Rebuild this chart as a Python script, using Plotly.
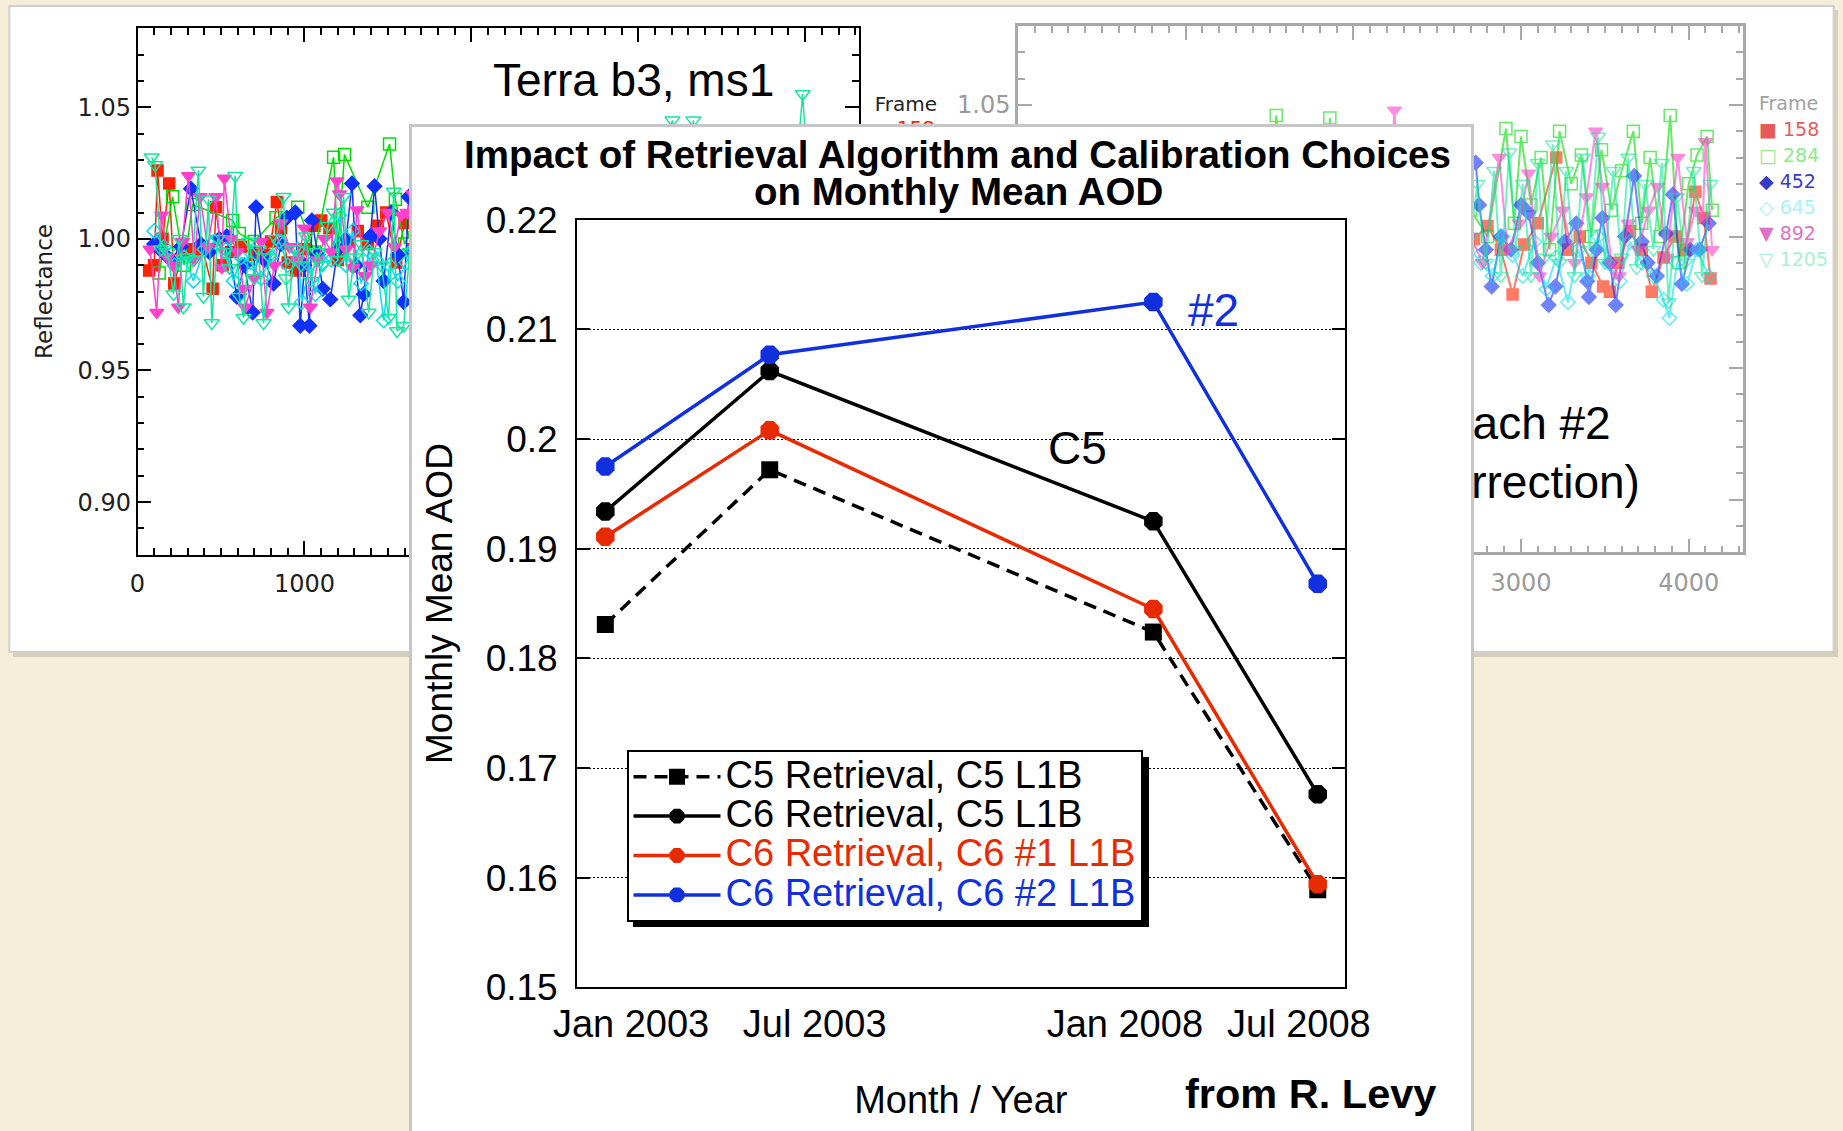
import plotly.graph_objects as go

W, H = 1843, 1131


def px(x):
    return x / W


def py(y):
    return 1 - y / H


# ---------------- main chart data ----------------
months = ["Jan 2003", "Jul 2003", "Jan 2008", "Jul 2008"]
month_pos = [0, 6, 20, 26]
c5_ret_c5_l1b = [0.1831, 0.1972, 0.1824, 0.1589]
c6_ret_c5_l1b = [0.1934, 0.2062, 0.1925, 0.1676]
c6_ret_c6_1_l1b = [0.1911, 0.2008, 0.1845, 0.1594]
c6_ret_c6_2_l1b = [0.1975, 0.2077, 0.2125, 0.1868]
y_ticks_main = [0.15, 0.16, 0.17, 0.18, 0.19, 0.20, 0.21, 0.22]

# ---------------- background chart (left, Terra b3 ms1) ----------------
frames = ["158", "284", "452", "645", "892", "1205"]
left_f158 = [(70, 0.988), (100, 0.990), (120, 1.026), (150, 1.000), (190, 1.021), (220, 0.983),
             (270, 0.995), (330, 0.996), (390, 0.996), (450, 0.981), (470, 1.012), (510, 0.990),
             (560, 0.995), (620, 0.997), (700, 0.994), (760, 0.994), (800, 0.999), (835, 1.014),
             (860, 1.004), (900, 0.991), (950, 0.988), (1000, 0.996), (1060, 1.005), (1100, 1.007),
             (1150, 1.004), (1200, 0.992), (1260, 0.999), (1320, 1.003), (1380, 0.998), (1440, 1.005),
             (1490, 1.010), (1550, 0.991), (1600, 1.006), (1650, 0.996)]
left_f284 = [(130, 0.987), (210, 1.016), (280, 0.990), (330, 1.013), (570, 1.007), (610, 1.002),
             (700, 0.999), (830, 1.008), (960, 1.012), (1060, 0.995), (1175, 1.031), (1200, 0.996),
             (1240, 1.032), (1380, 1.012), (1510, 1.036), (1545, 1.015), (1600, 0.998), (1650, 1.005)]
left_f452 = [(100, 0.998), (150, 0.995), (200, 0.992), (260, 0.997), (320, 1.019), (380, 0.998),
             (430, 0.995), (490, 1.000), (535, 1.001), (595, 0.978), (640, 0.990), (690, 0.972),
             (710, 1.012), (760, 0.992), (815, 0.983), (860, 0.998), (895, 1.008), (945, 1.010),
             (975, 0.967), (1000, 0.990), (1030, 0.967), (1045, 1.007), (1080, 0.994), (1110, 0.981),
             (1155, 0.977), (1200, 0.996), (1250, 1.000), (1285, 1.021), (1310, 0.990), (1335, 0.971),
             (1355, 0.979), (1395, 1.001), (1420, 1.020), (1450, 1.000), (1475, 0.984), (1520, 1.010),
             (1560, 0.994), (1595, 0.976), (1625, 1.016), (1660, 0.995)]
left_f645 = [(100, 1.003), (160, 0.997), (220, 0.990), (280, 0.993), (335, 0.984), (400, 0.996),
             (460, 0.999), (530, 0.996), (575, 0.984), (620, 0.993), (680, 0.991), (740, 0.985),
             (800, 0.993), (850, 0.999), (900, 0.990), (960, 0.996), (985, 0.976), (1030, 0.990),
             (1065, 0.979), (1110, 0.991), (1160, 0.992), (1210, 1.009), (1250, 0.990), (1290, 1.003),
             (1340, 0.983), (1390, 0.995), (1430, 0.992), (1475, 0.969), (1510, 0.990), (1560, 0.984),
             (1610, 0.991), (1650, 0.996)]
left_f892 = [(75, 0.996), (115, 0.972), (145, 1.009), (180, 0.993), (215, 0.990), (245, 0.974),
             (270, 0.999), (305, 1.024), (340, 0.992), (375, 1.016), (420, 0.997), (470, 1.016),
             (505, 0.989), (520, 1.023), (560, 1.000), (600, 0.995), (635, 0.981), (645, 0.974),
             (700, 0.985), (740, 0.999), (775, 0.972), (820, 0.990), (860, 1.006), (910, 0.997),
             (960, 0.992), (1000, 1.004), (1035, 0.974), (1080, 0.992), (1120, 1.000), (1160, 0.995),
             (1195, 1.022), (1210, 1.017), (1250, 0.996), (1290, 0.989), (1315, 1.011), (1365, 0.986),
             (1400, 0.990), (1450, 1.003), (1500, 1.010), (1540, 0.997), (1580, 1.009), (1615, 1.010),
             (1650, 1.017)]
left_f1205 = [(85, 1.031), (105, 1.028), (140, 0.996), (180, 0.995), (215, 0.979), (250, 1.000),
              (275, 0.974), (300, 0.993), (330, 0.992), (365, 1.026), (395, 0.978), (425, 1.015),
              (445, 0.968), (480, 1.000), (520, 0.995), (550, 0.989), (585, 1.024), (610, 0.978),
              (635, 0.970), (670, 0.999), (700, 0.985), (725, 0.996), (755, 0.968), (790, 0.993),
              (830, 1.000), (875, 1.016), (890, 0.985), (905, 0.974), (940, 0.996), (980, 0.990),
              (1010, 1.001), (1040, 0.984), (1075, 0.995), (1110, 0.990), (1140, 1.005), (1175, 1.010),
              (1200, 0.992), (1235, 1.016), (1265, 0.977), (1300, 0.993), (1340, 0.998), (1385, 0.972),
              (1420, 0.995), (1460, 0.990), (1505, 0.970), (1535, 1.018), (1555, 0.965), (1595, 0.967),
              (1630, 0.995), (1680, 0.990), (3000, 0.995), (3205, 1.045), (3250, 0.990), (3330, 1.045),
              (3400, 0.990), (3900, 0.990), (3985, 1.055), (4050, 0.990)]

# ---------------- background chart (right, faded) ----------------
right_f158 = [(2720, 0.999), (2800, 1.004), (2880, 0.995), (2950, 0.978), (3020, 0.997), (3100, 1.005),
              (3210, 1.030), (3280, 0.995), (3350, 1.000), (3420, 0.990), (3490, 0.981), (3530, 0.979),
              (3580, 0.990), (3650, 1.002), (3720, 0.995), (3780, 0.979), (3850, 0.992), (3920, 1.000),
              (3980, 0.995), (4040, 1.017), (4090, 1.007), (4130, 0.984)]
right_f284 = [(1500, 1.000), (1540, 1.046), (1600, 0.995), (1820, 1.000), (1860, 1.045), (1900, 0.995),
              (2700, 1.010), (2800, 1.000), (2910, 1.041), (2960, 1.005), (3000, 1.038), (3060, 1.012),
              (3120, 1.030), (3170, 0.995), (3230, 1.040), (3300, 1.020), (3360, 1.031), (3420, 1.000),
              (3480, 1.033), (3540, 1.010), (3600, 1.025), (3670, 1.040), (3720, 1.005), (3770, 1.030),
              (3830, 1.000), (3890, 1.046), (3940, 0.990), (4000, 1.020), (4050, 1.031), (4110, 1.038),
              (4140, 1.010)]
right_f452 = [(2730, 1.028), (2750, 1.012), (2790, 0.995), (2825, 0.981), (2880, 1.000), (2940, 0.995),
              (3000, 1.012), (3045, 1.009), (3100, 0.990), (3165, 0.974), (3205, 0.981), (3260, 0.998),
              (3330, 1.005), (3395, 0.983), (3405, 0.977), (3450, 0.995), (3485, 1.007), (3530, 0.990),
              (3565, 0.974), (3620, 1.000), (3675, 1.023), (3720, 0.998), (3755, 0.990), (3810, 0.985),
              (3865, 1.001), (3905, 1.016), (3960, 0.982), (4010, 0.995), (4065, 0.995), (4120, 1.005)]
right_f645 = [(2700, 0.995), (2760, 0.990), (2830, 0.985), (2890, 1.000), (2950, 0.993), (3010, 0.985),
              (3080, 0.998), (3150, 0.980), (3210, 0.992), (3280, 0.975), (3340, 0.995), (3400, 0.985),
              (3460, 1.000), (3520, 0.990), (3590, 0.983), (3650, 0.998), (3720, 0.990), (3790, 0.985),
              (3850, 0.976), (3885, 0.969), (3930, 0.990), (3990, 0.982), (4050, 0.995), (4120, 0.985)]
right_f892 = [(2200, 0.995), (2245, 1.048), (2300, 0.990), (2700, 1.000), (2770, 0.990), (2870, 1.030),
              (2920, 0.995), (2990, 1.005), (3045, 1.024), (3110, 0.985), (3180, 1.000), (3250, 1.010),
              (3320, 0.990), (3390, 1.015), (3445, 1.040), (3485, 1.019), (3540, 0.990), (3585, 0.985),
              (3640, 1.005), (3700, 0.995), (3760, 1.010), (3815, 1.019), (3870, 0.992), (3935, 1.030),
              (3990, 0.998), (4040, 1.010), (4085, 1.007), (4100, 1.036), (4140, 0.995)]
right_f1205 = [(2700, 1.000), (2740, 1.020), (2790, 0.990), (2840, 1.025), (2880, 0.985), (2930, 1.032),
               (2970, 0.995), (3010, 1.020), (3060, 0.985), (3100, 1.028), (3140, 0.992), (3190, 1.035),
               (3230, 0.990), (3270, 1.025), (3320, 0.985), (3370, 1.030), (3410, 0.995), (3460, 1.038),
               (3500, 0.990), (3550, 1.025), (3600, 0.992), (3640, 1.030), (3690, 0.988), (3740, 1.020),
               (3790, 0.995), (3840, 1.028), (3880, 0.975), (3930, 1.015), (3980, 0.990), (4030, 1.025),
               (4080, 0.985), (4130, 1.020)]

frame_colors = ["#ff2200", "#00dd00", "#1030ff", "#00e0f0", "#ff40cc", "#10e8a0"]
frame_symbols = ["square", "square-open", "diamond", "diamond-open", "triangle-down", "triangle-down-open"]
frame_sizes = [11, 12, 11, 11, 12, 13]
legend_glyphs = ["\u25a0", "\u25a1", "\u25c6", "\u25c7", "\u25bc", "\u25bd"]
faded_colors = ["#e85a5a", "#8ee88e", "#3a3ac8", "#a8f2f6", "#e070c8", "#a8f0d4"]

MAIN_FONT = "Liberation Sans, Arial, sans-serif"
IDL_FONT = "DejaVu Sans, sans-serif"
BLUE = "#1030e0"
RED = "#e82a00"

fig = go.Figure()


def add_frame_series(pairs, i, xa, ya, opacity=1.0, lw=1.5):
    fig.add_trace(go.Scatter(
        x=[p[0] for p in pairs], y=[p[1] for p in pairs], mode="lines+markers",
        xaxis=xa, yaxis=ya, opacity=opacity, showlegend=False, hoverinfo="skip",
        line=dict(color=frame_colors[i], width=lw),
        marker=dict(color=frame_colors[i], symbol=frame_symbols[i], size=frame_sizes[i],
                    line=dict(color=frame_colors[i], width=1.5))))


left_series = [left_f158, left_f284, left_f452, left_f645, left_f892, left_f1205]
right_series = [right_f158, right_f284, right_f452, right_f645, right_f892, right_f1205]

# subplot 2: left background chart
for i, s in enumerate(left_series):
    add_frame_series(s, i, "x2", "y2")

# subplot 3: right background chart (faded)
for i, s in enumerate(right_series):
    add_frame_series(s, i, "x3", "y3", opacity=0.6, lw=2)
fig.add_trace(go.Scatter(x=[3535, 3709], y=[0.9276, 0.9049], mode="text",
                         text=["Approach #2", "(with correction)"], textposition="middle left",
                         textfont=dict(family=MAIN_FONT, size=46, color="black"),
                         xaxis="x3", yaxis="y3", cliponaxis=False, showlegend=False, hoverinfo="skip"))

# subplot 4: holder for the left chart's frame legend (partly hidden by the front card)
fig.add_trace(go.Scatter(x=[0.06, 0.21], y=[0.76, 0.34], mode="text", text=["Frame", frames[0]],
                         textposition="middle right",
                         textfont=dict(family=IDL_FONT, size=20, color=["#222222", frame_colors[0]]),
                         xaxis="x4", yaxis="y4", cliponaxis=False, showlegend=False, hoverinfo="skip"))

# subplot 5: front card (empty subplot whose background hides the charts behind it)
fig.add_trace(go.Scatter(x=[None], y=[None], xaxis="x5", yaxis="y5", showlegend=False, hoverinfo="skip"))

# subplot 6: main chart
main_series = [
    ("C5 Retrieval, C5 L1B", c5_ret_c5_l1b, "black", "square", 17, "13px,8px"),
    ("C6 Retrieval, C5 L1B", c6_ret_c5_l1b, "black", "octagon", 20, "solid"),
    ("C6 Retrieval, C6 #1 L1B", c6_ret_c6_1_l1b, RED, "octagon", 20, "solid"),
    ("C6 Retrieval, C6 #2 L1B", c6_ret_c6_2_l1b, BLUE, "octagon", 20, "solid"),
]
for name, vals, col, sym, size, dash in main_series:
    fig.add_trace(go.Scatter(
        x=month_pos, y=vals, mode="lines+markers", xaxis="x6", yaxis="y6",
        name='<span style="font-size:38px;color:%s">%s</span>' % (col, name),
        line=dict(color=col, width=3.5, dash=dash),
        marker=dict(color=col, symbol=sym, size=size, line=dict(width=0))))

tick_font_idl = dict(family=IDL_FONT, size=24, color="#1e1e1e")
tick_font_faded = dict(family=IDL_FONT, size=24, color="#9a9a9a")

common_bg_x = dict(range=[0, 4324], tickvals=[0, 1000, 2000, 3000, 4000], ticks="inside", ticklen=14,
                   tickwidth=1.5, showline=True, mirror="ticks", linewidth=1.5, showgrid=False,
                   zeroline=False, ticklabelstandoff=7, automargin=False)
common_bg_y = dict(range=[0.88, 1.08], tickvals=[0.90, 0.95, 1.00, 1.05],
                   ticktext=["0.90", "0.95", "1.00", "1.05"], ticks="inside", ticklen=14, tickwidth=1.5,
                   showline=True, mirror="ticks", linewidth=1.5, showgrid=False, zeroline=False,
                   ticklabelstandoff=0, automargin=False)
hidden_axis = dict(range=[0, 1], showline=False, showgrid=False, zeroline=False, showticklabels=False,
                   ticks="", automargin=False, fixedrange=True)

layout = dict(
    width=W, height=H, margin=dict(l=0, r=0, t=0, b=0),
    paper_bgcolor="#f6eed8", plot_bgcolor="white",
    font=dict(family=MAIN_FONT, color="black"),
    xaxis2=dict(common_bg_x, domain=[px(137.5), px(859.2)], anchor="y2", tickcolor="black",
                linecolor="black", tickfont=tick_font_idl,
                minor=dict(dtick=100, ticks="inside", ticklen=7, tickwidth=1.5, tickcolor="black")),
    yaxis2=dict(common_bg_y, domain=[py(554.8), py(28.2)], anchor="x2", tickcolor="black",
                linecolor="black", tickfont=tick_font_idl,
                minor=dict(dtick=0.01, ticks="inside", ticklen=7, tickwidth=1.5, tickcolor="black"),
                title=dict(text="Reflectance", font=dict(family=IDL_FONT, size=23, color="#1e1e1e"),
                           standoff=18)),
    xaxis3=dict(common_bg_x, domain=[px(1018), px(1743)], anchor="y3", tickcolor="#a8a8a8",
                linecolor="#a8a8a8", linewidth=2.5, tickfont=tick_font_faded,
                minor=dict(dtick=100, ticks="inside", ticklen=7, tickwidth=1.5, tickcolor="#a8a8a8")),
    yaxis3=dict(common_bg_y, domain=[py(552.4), py(25.9)], anchor="x3", tickcolor="#a8a8a8",
                linecolor="#a8a8a8", linewidth=2.5, tickfont=tick_font_faded,
                minor=dict(dtick=0.01, ticks="inside", ticklen=7, tickwidth=1.5, tickcolor="#a8a8a8")),
    xaxis4=dict(hidden_axis, domain=[px(866), px(1012)], anchor="y4"),
    yaxis4=dict(hidden_axis, domain=[py(150), py(92)], anchor="x4"),
    xaxis5=dict(domain=[px(411.5), px(1471)], anchor="y5", range=[0, 1], side="top", showline=True,
                linecolor="#c6c6c6", linewidth=3, showgrid=False, zeroline=False, showticklabels=False,
                ticks="", automargin=False, fixedrange=True),
    yaxis5=dict(domain=[0, py(127)], anchor="x5", range=[0, 1], showline=True, mirror=True,
                linecolor="#c6c6c6", linewidth=3, showgrid=False, zeroline=False, showticklabels=False,
                ticks="", automargin=False, fixedrange=True),
    xaxis6=dict(domain=[px(577.1), px(1344.6)], anchor="y6", range=[-1.03, 26.98],
                tickvals=[0.94, 7.64, 18.96, 25.31], ticktext=months, ticks="", showline=True,
                mirror=True, linecolor="black", linewidth=2, showgrid=False, zeroline=False,
                tickfont=dict(family=MAIN_FONT, size=38, color="black"), ticklabelstandoff=2,
                automargin=False,
                title=dict(text="Month / Year", font=dict(family=MAIN_FONT, size=38, color="black"),
                           standoff=42)),
    yaxis6=dict(domain=[py(987.3), py(219.8)], anchor="x6", range=[0.15, 0.22], tickvals=y_ticks_main,
                ticks="inside", ticklen=13, tickwidth=2, tickcolor="black", showline=True, mirror="ticks",
                linecolor="black", linewidth=2, showgrid=True, gridcolor="black", gridwidth=1,
                griddash="2px,2px", zeroline=False,
                tickfont=dict(family=MAIN_FONT, size=37, color="black"), ticklabelstandoff=10,
                automargin=False,
                title=dict(text="Monthly Mean AOD", font=dict(family=MAIN_FONT, size=37, color="black"),
                           standoff=22)),
    legend=dict(x=px(626.5), y=py(750), xanchor="left", yanchor="top", bgcolor="white",
                bordercolor="black", borderwidth=2, font=dict(family=MAIN_FONT, size=28, color="black"),
                itemwidth=87, tracegroupgap=0),
    shapes=[
        dict(type="rect", xref="paper", yref="paper", x0=px(13), x1=px(1838), y0=py(657), y1=py(10),
             fillcolor="rgba(110,100,80,0.22)", line=dict(width=0), layer="below"),
        dict(type="rect", xref="paper", yref="paper", x0=px(9.4), x1=px(1833.6), y0=py(652), y1=py(5.9),
             fillcolor="white", line=dict(color="#d0d0d0", width=2), layer="below"),
        dict(type="rect", xref="paper", yref="paper", x0=px(633), x1=px(1149), y0=py(927), y1=py(757),
             fillcolor="black", line=dict(width=0), layer="above"),
    ],
    annotations=[
        dict(text="<b>Impact of Retrieval Algorithm and Calibration Choices</b>", x=px(957), y=py(154),
             font=dict(family=MAIN_FONT, size=38.5)),
        dict(text="<b>on Monthly Mean AOD</b>", x=px(959), y=py(191), font=dict(family=MAIN_FONT, size=38.5)),
        dict(text="C5", x=px(1077), y=py(448), font=dict(family=MAIN_FONT, size=46, color="black")),
        dict(text="#2", x=px(1213), y=py(310), font=dict(family=MAIN_FONT, size=46, color=BLUE)),
        dict(text="<b>from R. Levy</b>", x=px(1310), y=py(1093),
             font=dict(family=MAIN_FONT, size=41.5, color="black")),
        dict(text="Terra b3, ms1", x=px(633), y=py(80), font=dict(family=MAIN_FONT, size=46, color="black")),
        dict(text="Frame", x=px(1757), y=py(103), xanchor="left",
             font=dict(family=IDL_FONT, size=19, color="#a0a0a0")),
    ],
)

for i, f in enumerate(frames):
    layout["annotations"].append(dict(
        text="%s %s" % (legend_glyphs[i], f), x=px(1757), y=py(129 + 26 * i), xanchor="left",
        font=dict(family=IDL_FONT, size=19, color=faded_colors[i])))

for a in layout["annotations"]:
    a.setdefault("xref", "paper")
    a.setdefault("yref", "paper")
    a.setdefault("xanchor", "center")
    a.setdefault("yanchor", "middle")
    a.setdefault("showarrow", False)

fig.update_layout(**layout)
fig.write_html("out.html")
